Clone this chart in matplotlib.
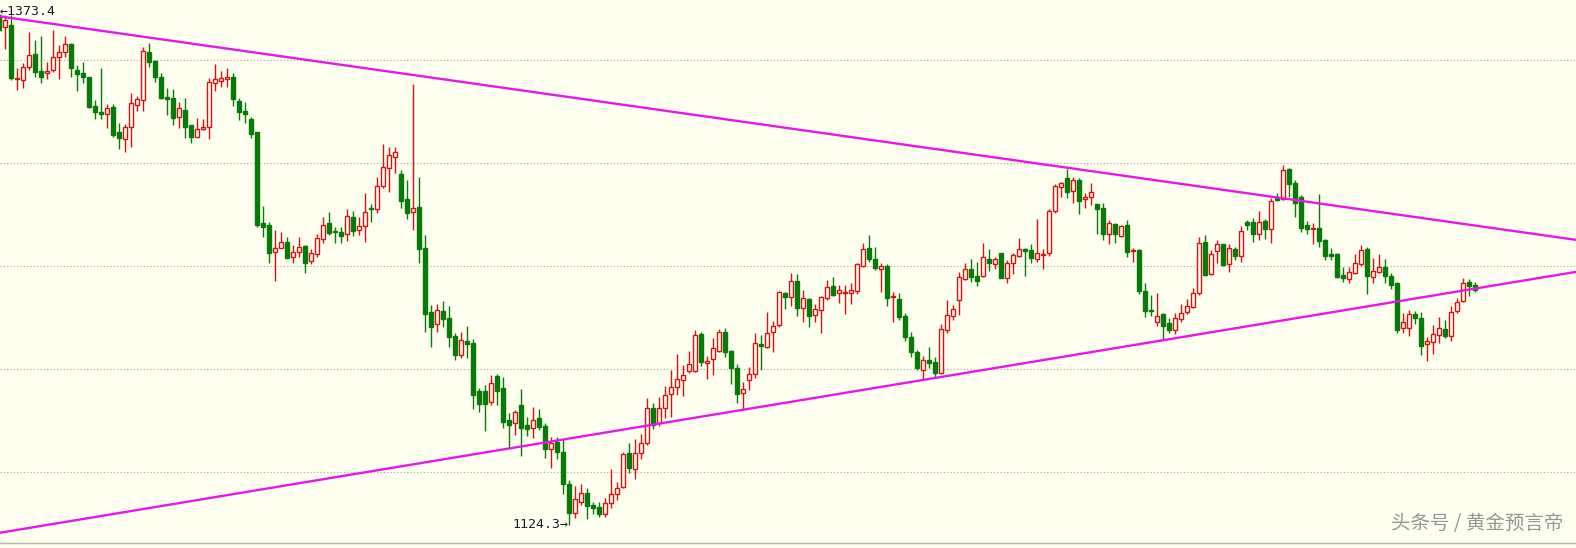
import matplotlib
matplotlib.use('Agg')
import matplotlib.pyplot as plt
import numpy as np

# daily candles (price units)
opens = [1371.8, 1366.0, 1367.0, 1340.8, 1340.3, 1346.6, 1352.9, 1344.6, 1343.7, 1345.1,
         1351.4, 1353.9, 1357.7, 1345.1, 1343.7, 1341.7, 1327.6, 1324.7, 1323.8, 1327.2,
         1315.0, 1311.6, 1317.5, 1328.1, 1330.6, 1353.9, 1349.5, 1341.7, 1332.0, 1331.5,
         1322.3, 1325.7, 1318.4, 1312.6, 1316.5, 1317.5, 1338.8, 1339.8, 1340.8, 1341.7,
         1330.1, 1325.2, 1321.3, 1315.0, 1270.9, 1269.9, 1256.8, 1258.7, 1261.6, 1254.4,
         1256.8, 1259.7, 1252.4, 1255.8, 1263.1, 1270.9, 1267.0, 1266.5, 1265.5, 1273.8,
         1267.5, 1269.4, 1278.1, 1277.6, 1288.8, 1297.6, 1302.9, 1294.6, 1282.5, 1276.2,
         1278.6, 1258.7, 1227.7, 1221.8, 1228.1, 1224.7, 1216.0, 1206.8, 1213.6, 1212.6,
         1189.3, 1189.3, 1184.0, 1196.6, 1190.8, 1175.2, 1173.8, 1182.5, 1172.8, 1171.3,
         1176.2, 1172.3, 1161.2, 1164.6, 1159.7, 1144.2, 1130.1, 1135.4, 1139.8, 1134.0,
         1133.0, 1129.6, 1134.9, 1139.3, 1142.7, 1159.2, 1151.4, 1159.2, 1164.1, 1181.1,
         1173.8, 1181.1, 1187.8, 1191.2, 1194.6, 1199.0, 1199.0, 1217.0, 1202.9, 1204.8,
         1208.7, 1217.9, 1208.7, 1200.5, 1188.3, 1194.6, 1197.6, 1212.1, 1210.7, 1217.9,
         1221.3, 1236.9, 1234.9, 1242.7, 1229.6, 1234.0, 1226.2, 1228.6, 1234.4, 1240.3,
         1236.9, 1236.9, 1236.9, 1237.8, 1250.0, 1258.7, 1253.4, 1248.5, 1250.0, 1234.9,
         1234.0, 1225.7, 1215.5, 1208.2, 1199.5, 1204.4, 1203.4, 1198.0, 1218.9, 1225.7,
         1233.5, 1243.7, 1248.5, 1245.1, 1245.1, 1253.4, 1251.0, 1256.3, 1244.2, 1251.4,
         1254.8, 1258.2, 1257.7, 1253.4, 1255.3, 1256.3, 1276.7, 1288.3, 1292.7, 1286.4,
         1291.7, 1282.5, 1283.5, 1280.1, 1278.1, 1265.5, 1270.4, 1264.5, 1269.9, 1257.3,
         1257.7, 1237.8, 1228.6, 1222.8, 1226.7, 1222.3, 1218.9, 1224.3, 1227.7, 1230.1,
         1236.9, 1261.6, 1246.1, 1257.3, 1260.7, 1251.0, 1258.2, 1254.8, 1271.3, 1271.3,
         1265.5, 1271.8, 1267.9, 1283.0, 1282.5, 1297.1, 1290.3, 1283.5, 1269.9, 1267.9,
         1268.4, 1262.6, 1255.8, 1255.8, 1245.6, 1243.7, 1246.6, 1251.0, 1258.2, 1244.6,
         1247.1, 1249.5, 1245.1, 1241.7, 1219.9, 1219.9, 1226.7, 1224.7, 1212.1, 1213.1,
         1216.5, 1219.4, 1216.0, 1228.1, 1233.0, 1242.2, 1240.8]

highs = [1373.4, 1371.8, 1371.8, 1346.1, 1348.5, 1363.6, 1359.7, 1361.6, 1349.0, 1364.5,
         1357.3, 1361.6, 1358.2, 1347.5, 1349.0, 1341.7, 1330.6, 1346.1, 1328.6, 1328.6,
         1319.4, 1318.9, 1334.0, 1332.5, 1356.3, 1358.2, 1350.0, 1343.7, 1336.4, 1335.9,
         1329.6, 1331.5, 1318.4, 1321.8, 1321.3, 1341.2, 1348.0, 1344.6, 1346.1, 1343.7,
         1331.5, 1329.6, 1322.3, 1315.0, 1279.1, 1271.3, 1267.5, 1266.5, 1264.1, 1260.2,
         1264.1, 1260.2, 1258.2, 1265.5, 1273.8, 1276.2, 1268.9, 1268.9, 1277.6, 1276.7,
         1273.8, 1285.4, 1280.1, 1293.2, 1309.2, 1307.7, 1307.7, 1296.6, 1291.7, 1338.3,
         1293.2, 1265.0, 1231.0, 1231.5, 1233.0, 1230.6, 1217.4, 1217.9, 1220.9, 1214.5,
         1190.8, 1192.2, 1197.1, 1197.6, 1196.1, 1178.6, 1180.1, 1190.3, 1176.7, 1181.5,
         1180.6, 1173.8, 1167.0, 1167.0, 1166.0, 1146.1, 1143.2, 1144.2, 1142.2, 1135.4,
         1135.4, 1137.4, 1151.4, 1145.1, 1159.7, 1164.1, 1166.0, 1168.4, 1185.9, 1183.5,
         1186.4, 1191.7, 1199.5, 1207.3, 1201.9, 1208.7, 1218.9, 1217.9, 1206.3, 1215.0,
         1219.4, 1219.9, 1209.2, 1202.4, 1193.7, 1201.0, 1217.4, 1216.5, 1227.7, 1223.3,
         1237.8, 1237.4, 1246.6, 1246.1, 1238.3, 1234.4, 1231.5, 1235.4, 1243.2, 1244.6,
         1240.8, 1240.8, 1241.7, 1251.4, 1261.1, 1265.0, 1259.2, 1251.4, 1251.0, 1237.4,
         1236.9, 1227.2, 1217.9, 1209.2, 1206.3, 1210.7, 1205.8, 1221.8, 1233.5, 1231.0,
         1247.1, 1251.4, 1253.4, 1251.9, 1261.1, 1258.2, 1254.4, 1256.3, 1252.9, 1256.3,
         1263.6, 1258.7, 1260.7, 1272.8, 1258.2, 1277.6, 1289.8, 1290.8, 1297.1, 1293.2,
         1292.7, 1285.4, 1290.3, 1280.1, 1280.6, 1272.3, 1270.9, 1269.9, 1272.3, 1258.7,
         1258.2, 1241.7, 1235.9, 1236.9, 1227.2, 1224.7, 1227.2, 1231.5, 1234.0, 1239.3,
         1264.1, 1265.0, 1257.7, 1262.6, 1260.7, 1260.7, 1259.2, 1269.4, 1272.3, 1273.3,
         1276.7, 1272.8, 1283.0, 1285.4, 1299.0, 1297.6, 1291.7, 1284.5, 1271.8, 1270.9,
         1284.9, 1263.1, 1258.7, 1256.3, 1249.5, 1249.5, 1255.8, 1260.2, 1259.2, 1253.9,
         1255.8, 1253.4, 1246.6, 1242.2, 1227.2, 1228.6, 1228.1, 1227.7, 1215.5, 1221.3,
         1225.2, 1223.8, 1230.6, 1234.4, 1244.2, 1243.7, 1242.2]

lows = [1364.1, 1355.3, 1340.3, 1335.4, 1336.4, 1345.1, 1341.7, 1338.8, 1340.8, 1344.2,
        1340.8, 1351.4, 1341.7, 1334.9, 1338.8, 1326.7, 1321.3, 1321.3, 1317.0, 1312.6,
        1306.8, 1305.3, 1307.7, 1325.2, 1325.2, 1346.6, 1339.3, 1331.0, 1323.3, 1318.4,
        1317.0, 1312.1, 1309.7, 1312.6, 1316.0, 1311.6, 1334.9, 1336.9, 1336.9, 1327.6,
        1320.9, 1319.4, 1312.1, 1268.9, 1264.1, 1251.4, 1242.7, 1258.7, 1253.9, 1251.4,
        1254.4, 1246.6, 1251.0, 1254.4, 1261.1, 1265.0, 1261.1, 1261.1, 1262.1, 1264.5,
        1265.0, 1261.6, 1271.3, 1275.7, 1287.8, 1285.9, 1295.1, 1278.1, 1272.8, 1267.5,
        1251.4, 1217.9, 1210.7, 1217.9, 1220.4, 1210.7, 1204.4, 1205.3, 1205.3, 1180.6,
        1179.1, 1169.9, 1182.5, 1182.5, 1171.3, 1161.6, 1168.0, 1157.8, 1167.5, 1166.5,
        1170.4, 1156.8, 1151.9, 1156.3, 1139.3, 1124.3, 1127.7, 1134.0, 1127.2, 1129.6,
        1128.1, 1128.1, 1132.5, 1136.4, 1142.2, 1149.5, 1146.6, 1156.3, 1163.1, 1170.9,
        1172.3, 1176.2, 1176.7, 1187.4, 1186.9, 1198.0, 1198.5, 1201.4, 1195.1, 1197.1,
        1208.2, 1205.8, 1192.7, 1183.5, 1180.1, 1189.8, 1195.6, 1199.5, 1210.2, 1208.2,
        1220.4, 1229.1, 1230.6, 1225.7, 1222.8, 1220.4, 1222.8, 1217.4, 1233.5, 1235.4,
        1232.0, 1226.7, 1231.5, 1236.4, 1249.5, 1251.9, 1248.0, 1237.4, 1230.6, 1222.8,
        1223.8, 1213.6, 1205.8, 1199.5, 1194.6, 1200.5, 1196.1, 1197.6, 1217.4, 1223.8,
        1226.2, 1243.2, 1242.2, 1240.3, 1244.6, 1247.6, 1248.5, 1244.2, 1241.7, 1246.1,
        1254.4, 1245.1, 1251.4, 1251.9, 1248.5, 1254.8, 1275.7, 1283.5, 1283.0, 1280.6,
        1275.2, 1278.1, 1279.6, 1265.5, 1262.6, 1260.7, 1261.1, 1264.1, 1254.4, 1251.9,
        1236.4, 1225.2, 1225.7, 1220.9, 1214.1, 1217.4, 1217.0, 1222.8, 1226.7, 1229.6,
        1235.9, 1245.1, 1245.6, 1251.4, 1250.0, 1247.1, 1252.9, 1251.9, 1267.5, 1261.6,
        1262.6, 1263.1, 1261.1, 1281.5, 1282.0, 1283.5, 1273.8, 1266.5, 1265.5, 1260.7,
        1259.2, 1252.9, 1252.9, 1244.2, 1242.2, 1241.7, 1246.1, 1250.0, 1236.4, 1241.7,
        1246.6, 1241.7, 1238.8, 1217.4, 1217.4, 1216.0, 1221.8, 1206.8, 1203.9, 1207.3,
        1212.6, 1215.0, 1213.6, 1227.2, 1232.5, 1235.4, 1237.4]

closes = [1364.5, 1369.4, 1341.2, 1341.2, 1346.6, 1352.4, 1344.2, 1341.7, 1344.6, 1351.4,
          1353.9, 1357.7, 1346.1, 1343.2, 1341.7, 1327.2, 1324.7, 1323.8, 1326.7, 1313.6,
          1312.1, 1317.5, 1329.1, 1331.0, 1354.3, 1349.0, 1341.7, 1331.5, 1331.0, 1321.8,
          1326.7, 1317.5, 1312.6, 1316.5, 1317.5, 1339.3, 1340.8, 1341.2, 1341.7, 1331.0,
          1324.7, 1323.8, 1314.1, 1269.9, 1268.9, 1256.3, 1258.7, 1261.6, 1253.9, 1256.8,
          1259.2, 1251.4, 1256.3, 1263.6, 1269.9, 1266.0, 1266.5, 1264.5, 1274.3, 1267.0,
          1269.4, 1276.2, 1277.6, 1288.8, 1298.0, 1303.9, 1305.3, 1281.5, 1275.7, 1278.1,
          1258.2, 1226.7, 1220.4, 1228.6, 1224.3, 1215.5, 1206.8, 1214.1, 1212.1, 1187.4,
          1183.0, 1183.0, 1193.2, 1189.3, 1174.3, 1172.8, 1179.1, 1171.3, 1170.9, 1175.2,
          1171.8, 1161.2, 1164.1, 1159.7, 1144.2, 1130.1, 1136.9, 1139.8, 1133.5, 1132.5,
          1129.6, 1134.9, 1139.3, 1142.2, 1158.7, 1151.9, 1159.2, 1164.1, 1181.1, 1172.8,
          1181.1, 1187.4, 1191.2, 1195.1, 1197.1, 1202.4, 1216.5, 1203.4, 1203.9, 1210.2,
          1217.9, 1208.2, 1200.5, 1187.8, 1190.3, 1197.6, 1212.6, 1211.1, 1217.4, 1220.9,
          1237.4, 1234.9, 1242.7, 1229.6, 1234.4, 1225.7, 1229.1, 1234.9, 1239.8, 1235.9,
          1238.3, 1237.4, 1238.3, 1251.0, 1258.2, 1253.4, 1249.0, 1250.0, 1234.4, 1235.4,
          1225.2, 1215.5, 1208.2, 1200.5, 1204.4, 1202.9, 1198.0, 1219.4, 1226.2, 1229.1,
          1244.6, 1248.5, 1244.6, 1242.7, 1254.4, 1251.4, 1253.4, 1244.2, 1251.4, 1255.3,
          1258.2, 1257.3, 1253.9, 1256.3, 1255.8, 1276.7, 1288.8, 1290.3, 1285.9, 1291.7,
          1281.5, 1283.5, 1285.9, 1277.6, 1265.5, 1270.9, 1265.5, 1269.4, 1256.8, 1257.7,
          1237.8, 1228.1, 1228.1, 1225.7, 1220.9, 1218.9, 1224.7, 1227.2, 1230.6, 1236.9,
          1261.1, 1245.6, 1255.8, 1260.7, 1250.5, 1258.7, 1254.8, 1267.0, 1269.9, 1265.5,
          1271.3, 1267.9, 1281.5, 1282.0, 1296.6, 1289.8, 1280.6, 1268.4, 1267.9, 1268.4,
          1262.1, 1254.8, 1254.8, 1244.6, 1244.2, 1247.1, 1251.4, 1257.7, 1245.1, 1247.6,
          1249.5, 1245.1, 1240.8, 1218.9, 1222.8, 1226.7, 1224.7, 1211.1, 1213.6, 1217.0,
          1219.9, 1216.0, 1227.7, 1232.5, 1241.7, 1240.3, 1238.3]

# trend lines (candle index, price) at both ends of the window
trend_x = [0, 263]
upper_y = [1371.2, 1262.6]
lower_y = [1120.4, 1247.2]

grid_levels = [1150, 1200, 1250, 1300, 1350]
high_label = '\u21901373.4'
low_label = '1124.3\u2192'
watermark = '头条号 / 黄金预言帝'

BG = '#fffff0'
UP = '#d41414'
DOWN = '#087a08'


def main():
    o = np.array(opens)
    h = np.array(highs)
    l = np.array(lows)
    c = np.array(closes)
    idx = np.arange(len(o))
    up = c >= o

    fig = plt.figure(figsize=(15.76, 5.48), dpi=100, facecolor=BG)
    ax = fig.add_axes([0, 5 / 548, 1, 543 / 548])
    ax.set_facecolor(BG)

    for g in grid_levels:
        ax.axhline(g, color='#a8a8a0', lw=0.8, ls=(0, (1, 2)), zorder=0)

    # wicks
    ax.vlines(idx[up], l[up], h[up], color=UP, lw=1, zorder=1)
    ax.vlines(idx[~up], l[~up], h[~up], color=DOWN, lw=1, zorder=1)

    # bodies: hollow red for up days, filled green for down days
    bottoms = np.minimum(o, c)
    heights = np.abs(c - o)
    ax.bar(idx[up], heights[up], bottom=bottoms[up], width=0.62,
           facecolor=BG, edgecolor=UP, linewidth=1, zorder=2)
    ax.bar(idx[~up], heights[~up], bottom=bottoms[~up], width=0.62,
           facecolor=DOWN, edgecolor=DOWN, linewidth=1, zorder=2)

    ax.plot(trend_x, upper_y, color='#e816e8', lw=1.7, zorder=3)
    ax.plot(trend_x, lower_y, color='#e816e8', lw=1.7, zorder=3)

    i_hi = int(np.argmax(h))
    i_lo = int(np.argmin(l))
    ax.text(i_hi + 0.1, h[i_hi], high_label, ha='left', va='center',
            fontsize=9.5, family='DejaVu Sans Mono', color='#1c1c30', zorder=4)
    ax.text(i_lo - 0.1, l[i_lo], low_label, ha='right', va='center',
            fontsize=9.5, family='DejaVu Sans Mono', color='#1c1c30', zorder=4)

    ax.text(0.992, 0.035, watermark, transform=ax.transAxes, ha='right', va='center',
            fontsize=14, family=['Noto Sans CJK SC', 'DejaVu Sans'], color='#959595', zorder=4)

    ax.set_xlim(1 / 6, 1577 / 6)
    ax.set_ylim(1115.5, 1379.1)
    ax.set_xticks([])
    ax.set_yticks([])
    for s in ['top', 'left', 'right']:
        ax.spines[s].set_visible(False)
    ax.spines['bottom'].set_color('#b4b4a8')
    ax.spines['bottom'].set_linewidth(1)

    fig.savefig('out.png', dpi=100, facecolor=BG)


if __name__ == '__main__':
    main()
